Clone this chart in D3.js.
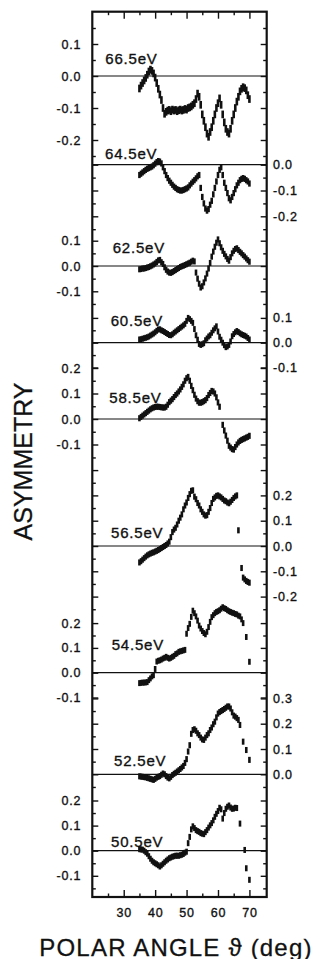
<!DOCTYPE html>
<html>
<head>
<meta charset="utf-8">
<script src="https://cdn.jsdelivr.net/npm/d3@7"></script>
<style>
  body { margin: 0; background: #fff; }
  svg { display: block; font-family: "Liberation Sans", Arial, Helvetica, sans-serif; }
</style>
</head>
<body>
<div id="chart"></div>
<script>
// polar angles of the measured points (deg)
const angles = [
  35, 35.5, 36, 36.5, 37, 37.5, 38, 38.5, 39, 39.5,
  40, 40.5, 41, 41.5, 42, 42.5, 43, 43.5, 44, 44.5,
  45, 45.5, 46, 46.5, 47, 47.5, 48, 48.5, 49, 49.5,
  50, 50.5, 51, 51.5, 52, 52.5, 53, 53.5, 54, 54.5,
  55, 55.5, 56, 56.5, 57, 57.5, 58, 58.5, 59, 59.5,
  60, 60.5, 61, 61.5, 62, 62.5, 63, 63.5, 64, 64.5,
  65, 65.5, 66, 66.5, 67, 67.5, 68, 68.5, 69, 69.5,
  70
];

const energies = ["66.5eV", "64.5eV", "62.5eV", "60.5eV", "58.5eV", "56.5eV", "54.5eV", "52.5eV", "50.5eV"];

// asymmetry values, one array per photon energy (null = no point)
const asym665 = [
  -0.039, -0.03, -0.022, -0.014, -0.006, 0.004, 0.014, 0.02, 0.016, 0.008,
  -0.005, -0.022, -0.04, -0.058, -0.075, -0.1, -0.118, -0.112, -0.108, -0.106,
  -0.11, -0.105, -0.108, -0.106, -0.11, -0.107, -0.105, -0.108, -0.106, -0.103,
  -0.105, -0.1, -0.098, -0.095, -0.09, -0.085, -0.072, -0.055, -0.065, -0.09,
  -0.12, -0.14, -0.16, -0.18, -0.19, -0.175, -0.16, -0.14, -0.12, -0.1,
  -0.085, -0.07, -0.09, -0.12, -0.145, -0.165, -0.175, -0.18, -0.165, -0.14,
  -0.12, -0.1, -0.08, -0.065, -0.048, -0.04, -0.035, -0.038, -0.045, -0.06,
  -0.072
];
const asym645 = [
  -0.04, -0.035, -0.03, -0.025, -0.02, -0.016, -0.013, -0.01, -0.007, -0.002,
  0.004, 0.01, 0.014, 0.012, 0.005, -0.01, -0.025, -0.04, -0.052, -0.062,
  -0.07, -0.078, -0.085, -0.09, -0.095, -0.098, -0.1, -0.1, -0.098, -0.095,
  -0.092, -0.088, -0.08, -0.073, -0.066, -0.06, -0.053, -0.045, -0.04, -0.09,
  -0.125, -0.15, -0.17, -0.178, -0.172, -0.155, -0.14, -0.115, -0.09, -0.065,
  -0.04, -0.02, -0.01, -0.04, -0.07, -0.09, -0.11, -0.13, -0.138, -0.125,
  -0.11, -0.095, -0.08, -0.07, -0.06, -0.055, -0.052, -0.055, -0.06, -0.065,
  -0.073
];
const asym625 = [
  -0.013, -0.012, -0.01, -0.01, -0.008, -0.006, -0.004, -0.001, 0.002, 0.006,
  0.01, 0.016, 0.022, 0.024, 0.015, 0.008, -0.005, -0.015, -0.022, -0.026,
  -0.027, -0.024, -0.02, -0.016, -0.012, -0.008, -0.004, -0.001, 0.001, 0.004,
  0.007, 0.01, 0.013, 0.017, 0.021, 0.018, -0.026, -0.05, -0.07, -0.085,
  -0.08, -0.065, -0.049, -0.03, -0.01, 0.012, 0.037, 0.057, 0.076, 0.092,
  0.105, 0.09, 0.074, 0.06, 0.048, 0.038, 0.028, 0.021, 0.035, 0.05,
  0.06, 0.067, 0.07, 0.063, 0.056, 0.05, 0.043, 0.037, 0.03, 0.023,
  0.017
];
const asym605 = [
  0.013, 0.014, 0.016, 0.018, 0.02, 0.022, 0.025, 0.029, 0.033, 0.037,
  0.042, 0.048, 0.053, 0.054, 0.05, 0.047, 0.043, 0.039, 0.035, 0.031,
  0.03, 0.034, 0.04, 0.045, 0.05, 0.055, 0.06, 0.065, 0.07, 0.076,
  0.088, 0.1, 0.095, 0.088, 0.08, 0.055, 0.03, 0.012, -0.005, -0.009,
  -0.006, -0.002, 0.01, 0.017, 0.025, 0.03, 0.04, 0.05, 0.058, 0.066,
  0.045, 0.024, 0.012, 0.0, -0.01, -0.018, -0.015, -0.009, 0.005, 0.026,
  0.035, 0.042, 0.047, 0.043, 0.038, 0.034, 0.031, 0.028, 0.025, 0.019,
  0.013
];
const asym585 = [
  0.003, 0.008, 0.013, 0.018, 0.023, 0.028, 0.033, 0.038, 0.042, 0.045,
  0.047, 0.048, 0.048, 0.047, 0.046, 0.045, 0.045, 0.048, 0.056, 0.066,
  0.072, 0.078, 0.086, 0.094, 0.1, 0.108, 0.116, 0.126, 0.136, 0.15,
  0.16, 0.165, 0.15, 0.13, 0.113, 0.095, 0.08, 0.07, 0.064, 0.064,
  0.066, 0.07, 0.074, 0.082, 0.094, 0.102, 0.11, 0.108, 0.1, 0.085,
  0.065, 0.048, null, -0.023, -0.045, -0.065, -0.085, -0.105, -0.112, -0.118,
  -0.12, -0.11, -0.1, -0.092, -0.086, -0.082, -0.079, -0.076, -0.073, -0.07,
  -0.066
];
const asym565 = [
  -0.065, -0.06, -0.054, -0.048, -0.042, -0.037, -0.033, -0.03, -0.027, -0.025,
  -0.022, -0.019, -0.016, -0.012, -0.008, -0.004, 0.0, 0.004, 0.01, 0.017,
  0.035, 0.055, 0.065, 0.072, 0.085, 0.1, 0.112, 0.125, 0.145, 0.16,
  0.172, 0.19, 0.205, 0.218, 0.22, 0.195, 0.185, 0.17, 0.16, 0.145,
  0.135, 0.125, 0.12, 0.122, 0.135, 0.15, 0.17, 0.186, 0.192, 0.198,
  0.2, 0.196, 0.192, 0.186, 0.18, 0.177, 0.172, 0.169, 0.175, 0.182,
  0.19, 0.196, 0.2, 0.062, null, -0.087, -0.125, -0.132, -0.138, -0.142,
  -0.145
];
const asym545 = [
  -0.042, -0.041, -0.04, -0.04, -0.039, -0.038, -0.03, -0.023, -0.015, -0.01,
  0.015, 0.045, 0.048, 0.05, 0.053, 0.057, 0.06, 0.064, 0.06, 0.057,
  0.06, 0.064, 0.068, 0.075, 0.078, 0.084, 0.086, 0.088, 0.09, 0.092,
  0.157, 0.18, 0.197, 0.225, 0.25, 0.24, 0.227, 0.21, 0.19, 0.178,
  0.168, 0.16, 0.155, 0.165, 0.184, 0.205, 0.224, 0.232, 0.24, 0.245,
  0.248, 0.252, 0.258, 0.264, 0.26, 0.257, 0.252, 0.248, 0.245, 0.242,
  0.24, 0.237, 0.235, 0.23, 0.227, 0.215, 0.2, null, 0.144, null,
  0.044
];
const asym525 = [
  -0.008, -0.009, -0.01, -0.011, -0.012, -0.014, -0.016, -0.018, -0.02, -0.022,
  -0.018, -0.013, -0.01, -0.007, -0.002, 0.003, 0.0, -0.007, -0.013, -0.016,
  -0.01, -0.003, 0.002, 0.006, 0.011, 0.016, 0.021, 0.027, 0.033, 0.045,
  0.06, 0.09, 0.115, 0.16, 0.175, 0.178, 0.172, 0.162, 0.155, 0.145,
  0.138, 0.136, 0.145, 0.155, 0.162, 0.175, 0.185, 0.198, 0.208, 0.225,
  0.24, 0.246, 0.25, 0.254, 0.258, 0.263, 0.268, 0.268, 0.26, 0.245,
  0.232, 0.228, 0.222, 0.215, 0.195, null, 0.129, null, 0.096, null,
  0.057
];
const asym505 = [
  0.006, 0.005, 0.004, 0.0, -0.006, -0.012, -0.022, -0.032, -0.04, -0.046,
  -0.05, -0.054, -0.058, -0.063, -0.058, -0.052, -0.046, -0.04, -0.035, -0.03,
  -0.027, -0.024, -0.022, -0.02, -0.02, -0.02, -0.018, -0.016, -0.013, -0.008,
  -0.004, 0.03, 0.055, 0.085, 0.097, 0.09, 0.082, 0.078, 0.075, 0.07,
  0.068, 0.066, 0.074, 0.082, 0.092, 0.101, 0.11, 0.121, 0.135, 0.147,
  0.158, 0.171, 0.165, 0.128, 0.15, 0.167, 0.175, 0.18, 0.172, 0.167,
  0.168, 0.171, 0.17, null, 0.108, null, null, 0.003, -0.07, null,
  -0.116
];

const series = [asym665, asym645, asym625, asym605, asym585, asym565, asym545, asym525, asym505];

// labelled asymmetry ticks of each panel
const yTickLabels = [
  [0.1, 0.0, -0.1, -0.2],
  [0.0, -0.1, -0.2],
  [0.1, 0.0, -0.1],
  [0.1, 0.0, -0.1],
  [0.2, 0.1, 0.0, -0.1],
  [0.2, 0.1, 0.0, -0.1, -0.2],
  [0.2, 0.1, 0.0, -0.1],
  [0.3, 0.2, 0.1, 0.0],
  [0.2, 0.1, 0.0, -0.1]
];
const xTickLabels = [30, 40, 50, 60, 70];
const xMinorTicks = [25, 35, 45, 55, 65];

// ---- layout ----
const W = 320, H = 959;
const frame = { left: 92.3, right: 266.7, top: 11.7, bottom: 897 };

// zero line, pixels per unit asymmetry, labelled side, tick span, label position
const panelLayout = [
  { zero: 76,    k: 320, side: "left",  lo: -0.25, hi: 0.15, lx: 105.3, ly: 64 },
  { zero: 164.7, k: 258, side: "right", lo: -0.25, hi: 0.0,  lx: 105,   ly: 159.3 },
  { zero: 266,   k: 253, side: "left",  lo: -0.15, hi: 0.1,  lx: 112.7, ly: 253.3 },
  { zero: 342.7, k: 248, side: "right", lo: -0.1,  hi: 0.1,  lx: 110.7, ly: 326 },
  { zero: 419,   k: 255, side: "left",  lo: -0.1,  hi: 0.15, lx: 109.3, ly: 403.3 },
  { zero: 546,   k: 253, side: "right", lo: -0.25, hi: 0.35, lx: 111,   ly: 538.3 },
  { zero: 672.7, k: 248, side: "left",  lo: -0.1,  hi: 0.2,  lx: 111.7, ly: 650 },
  { zero: 774.3, k: 253, side: "right", lo: -0.05, hi: 0.25, lx: 114,   ly: 766 },
  { zero: 850.7, k: 251, side: "left",  lo: -0.15, hi: 0.2,  lx: 111,   ly: 846.7 }
];

const ink = "#111";
const fmt = d => (d < -1e-9 ? "-" : "") + Math.abs(d).toFixed(1);

const svg = d3.select("#chart").append("svg")
    .attr("width", W)
    .attr("height", H);

const x = d3.scaleLinear().domain([20, 75.5]).range([frame.left, frame.right]);

// style an axis group: no domain line, dark ticks, tick label font
function styleAxis(g, size) {
    g.select(".domain").remove();
    g.selectAll("line").attr("stroke", ink).attr("stroke-width", 1.4);
    g.selectAll("text")
        .attr("fill", ink)
        .attr("stroke", ink)
        .attr("stroke-width", 0.35)
        .style("font-size", size + "px")
        .style("letter-spacing", "0.8px");
}

panelLayout.forEach((p, i) => {
    const y = d3.scaleLinear().domain([0, 0.1]).range([p.zero, p.zero - p.k * 0.1]);

    const all = d3.range(Math.round(p.lo * 20), Math.round(p.hi * 20) + 1);
    const major = all.filter(t => t % 2 === 0).map(t => t / 20);
    const minor = all.filter(t => t % 2 !== 0).map(t => t / 20);
    const labelled = yTickLabels[i];
    const majorAll = Array.from(new Set(major.concat(labelled)));

    // zero line across the frame
    svg.append("line")
        .attr("x1", frame.left).attr("x2", frame.right)
        .attr("y1", y(0)).attr("y2", y(0))
        .attr("stroke", ink)
        .attr("stroke-width", 1.2);

    // ticks on both sides, pointing inward
    ["left", "right"].forEach(side => {
        const isLabelSide = side === p.side;
        const mk = side === "left" ? d3.axisLeft : d3.axisRight;
        const gx = side === "left" ? frame.left : frame.right;

        const gMaj = svg.append("g")
            .attr("transform", `translate(${gx},0)`)
            .call(mk(y).tickValues(majorAll).tickSize(-6)
                .tickPadding(side === "left" ? 11 : 6.3)
                .tickFormat(d => isLabelSide && labelled.some(v => Math.abs(v - d) < 1e-9) ? fmt(d) : ""));
        styleAxis(gMaj, 12.5);

        const gMin = svg.append("g")
            .attr("transform", `translate(${gx},0)`)
            .call(mk(y).tickValues(minor).tickSize(-3.5).tickFormat(""));
        styleAxis(gMin, 12.5);
    });

    // energy label
    svg.append("text")
        .attr("x", p.lx)
        .attr("y", p.ly)
        .attr("fill", ink)
        .attr("stroke", ink)
        .attr("stroke-width", 0.35)
        .style("font-size", "15px")
        .style("letter-spacing", "0.8px")
        .text(energies[i]);

    // measured points drawn as short error bars
    const pts = angles.map((a, j) => ({ a: a, v: series[i][j] })).filter(d => d.v != null);
    svg.append("g")
        .selectAll("rect")
        .data(pts)
        .join("rect")
        .attr("x", d => x(d.a) - 1.3)
        .attr("y", d => y(d.v + 0.012))
        .attr("width", 2.6)
        .attr("height", d => y(d.v - 0.012) - y(d.v + 0.012))
        .attr("fill", ink);
});

// angle axes, top and bottom, ticks inward
const gTop = svg.append("g")
    .attr("transform", `translate(0,${frame.top})`)
    .call(d3.axisTop(x).tickValues(xTickLabels).tickSize(-7).tickFormat(""));
styleAxis(gTop, 12.5);
const gTopMinor = svg.append("g")
    .attr("transform", `translate(0,${frame.top})`)
    .call(d3.axisTop(x).tickValues(xMinorTicks).tickSize(-3.5).tickFormat(""));
styleAxis(gTopMinor, 12.5);

const gBot = svg.append("g")
    .attr("transform", `translate(0,${frame.bottom})`)
    .call(d3.axisBottom(x).tickValues(xTickLabels).tickSize(-7).tickPadding(11.5));
styleAxis(gBot, 12.5);
const gBotMinor = svg.append("g")
    .attr("transform", `translate(0,${frame.bottom})`)
    .call(d3.axisBottom(x).tickValues(xMinorTicks).tickSize(-3.5).tickFormat(""));
styleAxis(gBotMinor, 12.5);

// frame
svg.append("rect")
    .attr("x", frame.left)
    .attr("y", frame.top)
    .attr("width", frame.right - frame.left)
    .attr("height", frame.bottom - frame.top)
    .attr("fill", "none")
    .attr("stroke", ink)
    .attr("stroke-width", 2.2);

// axis titles
svg.append("text")
    .attr("transform", "translate(31.7,461.5) rotate(-90)")
    .attr("text-anchor", "middle")
    .attr("fill", ink)
    .attr("stroke", ink)
    .attr("stroke-width", 0.3)
    .style("font-size", "25px")
    .text("ASYMMETRY");

svg.append("text")
    .attr("x", 39.3)
    .attr("y", 955.5)
    .attr("fill", ink)
    .attr("stroke", ink)
    .attr("stroke-width", 0.3)
    .style("font-size", "24px")
    .style("letter-spacing", "1.2px")
    .text("POLAR ANGLE \u03d1 (deg)");
</script>
</body>
</html>
